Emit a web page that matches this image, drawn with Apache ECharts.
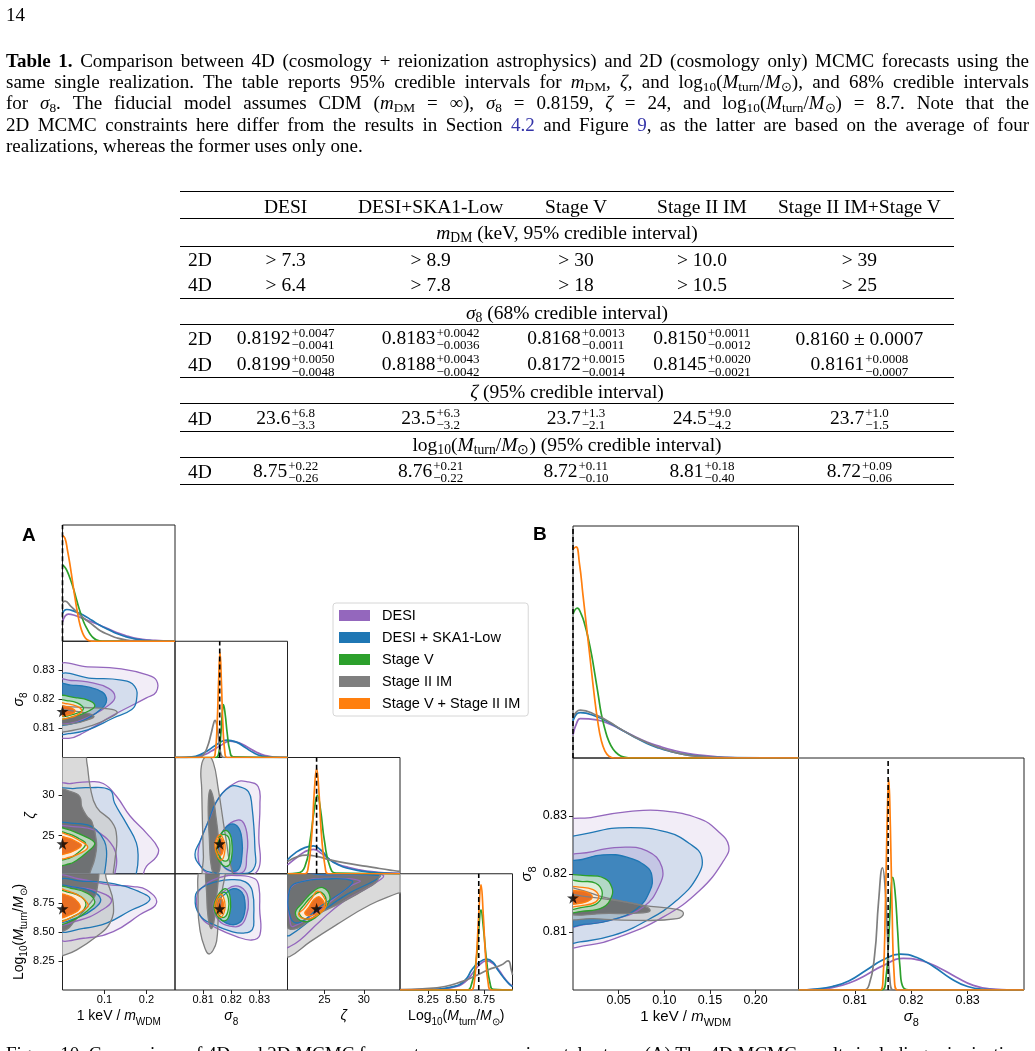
<!DOCTYPE html>
<html>
<head>
<meta charset="utf-8">
<script src="https://cdn.jsdelivr.net/npm/echarts@6/dist/echarts.min.js"></script>
<style>
  body { margin: 0; width: 1035px; height: 1051px; overflow: hidden; background: #fff; position: relative; font-family: 'Liberation Serif', serif; color: #000; }
  #chart { position: absolute; left: 0; top: 0; width: 1035px; height: 1051px; }
  .t { position: absolute; white-space: nowrap; }
  .cap { position: absolute; left: 6px; width: 1023px; font-size: 19px; line-height: 22px; text-align: justify; text-align-last: justify; white-space: nowrap; }
  .cap.last { text-align-last: left; }
  sub { font-size: 0.7em; vertical-align: -0.25em; line-height: 0; }
  .ln { color: #3434a8; }
  .c { position: absolute; transform: translate(-50%, -50%); white-space: nowrap; font-size: 19.5px; line-height: 22px; }
  .l { position: absolute; transform: translate(0, -50%); white-space: nowrap; font-size: 19.5px; line-height: 22px; }
  .ss { display: inline-block; vertical-align: -0.42em; font-size: 13px; line-height: 12.5px; margin-left: 1px; text-align: left; }
  .ss span { display: block; }
  .rule { position: absolute; left: 180px; width: 774px; height: 1px; background: #000; }
</style>
</head>
<body>
<div id="chart"></div>

<div class="t" style="left:6px;top:4px;font-size:19px;line-height:22px">14</div>
<div class="cap" style="top:50px"><b>Table 1.</b> Comparison between 4D (cosmology + reionization astrophysics) and 2D (cosmology only) MCMC forecasts using the</div>
<div class="cap" style="top:71px">same single realization. The table reports 95% credible intervals for <i>m</i><sub>DM</sub>, <i>ζ</i>, and log<sub>10</sub>(<i>M</i><sub>turn</sub>/<i>M</i><sub>⊙</sub>), and 68% credible intervals</div>
<div class="cap" style="top:92px">for <i>σ</i><sub>8</sub>. The fiducial model assumes CDM (<i>m</i><sub>DM</sub> = ∞), <i>σ</i><sub>8</sub> = 0.8159, <i>ζ</i> = 24, and log<sub>10</sub>(<i>M</i><sub>turn</sub>/<i>M</i><sub>⊙</sub>) = 8.7. Note that the</div>
<div class="cap" style="top:114px">2D MCMC constraints here differ from the results in Section <span class="ln">4.2</span> and Figure <span class="ln">9</span>, as the latter are based on the average of four</div>
<div class="cap last" style="top:135px">realizations, whereas the former uses only one.</div>

<div id="table"></div>

<div class="cap last" style="top:1043px">Figure 10. Comparison of 4D and 2D MCMC forecasts across experimental setups. (A) The 4D MCMC results including reionization</div>

<script>
// ---------- table (text only) ----------
const colX = [285.7, 430.7, 576, 702, 859.4];
const tableMid = 567;
const pm = (v, up, lo) => v + '<span class="ss"><span>+' + up + '</span><span>−' + lo + '</span></span>';
const tableHeader = ['DESI', 'DESI+SKA1-Low', 'Stage V', 'Stage II IM', 'Stage II IM+Stage V'];
const mdm2D = ['&gt; 7.3', '&gt; 8.9', '&gt; 30', '&gt; 10.0', '&gt; 39'];
const mdm4D = ['&gt; 6.4', '&gt; 7.8', '&gt; 18', '&gt; 10.5', '&gt; 25'];
const sig2D = [pm('0.8192', '0.0047', '0.0041'), pm('0.8183', '0.0042', '0.0036'), pm('0.8168', '0.0013', '0.0011'), pm('0.8150', '0.0011', '0.0012'), '0.8160 ± 0.0007'];
const sig4D = [pm('0.8199', '0.0050', '0.0048'), pm('0.8188', '0.0043', '0.0042'), pm('0.8172', '0.0015', '0.0014'), pm('0.8145', '0.0020', '0.0021'), pm('0.8161', '0.0008', '0.0007')];
const zeta4D = [pm('23.6', '6.8', '3.3'), pm('23.5', '6.3', '3.2'), pm('23.7', '1.3', '2.1'), pm('24.5', '9.0', '4.2'), pm('23.7', '1.0', '1.5')];
const mt4D = [pm('8.75', '0.22', '0.26'), pm('8.76', '0.21', '0.22'), pm('8.72', '0.11', '0.10'), pm('8.81', '0.18', '0.40'), pm('8.72', '0.09', '0.06')];

let th = '';
const rule = (y, h) => { th += '<div class="rule" style="top:' + y + 'px;height:' + (h || 1) + 'px"></div>'; };
const cen = (html, x, y) => { th += '<div class="c" style="left:' + x + 'px;top:' + y + 'px">' + html + '</div>'; };
const lab = (html, y) => { th += '<div class="l" style="left:188px;top:' + y + 'px">' + html + '</div>'; };
const row = (label, vals, y) => { lab(label, y); vals.forEach((v, i) => cen(v, colX[i], y)); };

rule(191, 1.4);
tableHeader.forEach((h, i) => cen(h, colX[i], 206.5));
rule(218);
cen('<i>m</i><sub>DM</sub> (keV, 95% credible interval)', tableMid, 232.5);
rule(245.5);
row('2D', mdm2D, 260);
row('4D', mdm4D, 285);
rule(298);
cen('<i>σ</i><sub>8</sub> (68% credible interval)', tableMid, 312.5);
rule(324);
row('2D', sig2D, 338.5);
row('4D', sig4D, 365);
rule(377);
cen('<i>ζ</i> (95% credible interval)', tableMid, 391.5);
rule(403);
row('4D', zeta4D, 418.5);
rule(430.5);
cen('log<sub>10</sub>(<i>M</i><sub>turn</sub>/<i>M</i><sub>⊙</sub>) (95% credible interval)', tableMid, 444.5);
rule(457);
row('4D', mt4D, 471.5);
rule(483.5, 1.4);
document.getElementById('table').innerHTML = th;

// ---------- chart data ----------
const names = ['DESI', 'DESI + SKA1-Low', 'Stage V', 'Stage II IM', 'Stage V + Stage II IM'];
const colors = ['#9467bd', '#1f77b4', '#2ca02c', '#7f7f7f', '#ff7f0e'];
const fillOuter = ['rgba(148,103,189,0.12)', 'rgba(31,119,180,0.14)', 'rgba(200,232,200,0.85)', 'rgba(205,205,205,0.75)', 'rgba(253,234,214,0.95)'];
const fillInner = ['rgba(148,103,189,0.2)', 'rgba(31,119,180,0.8)', 'rgba(226,242,221,0.9)', 'rgba(100,100,100,0.85)', 'rgba(232,104,25,0.95)'];
const contourOrder = [0, 1, 3, 2, 4];

// parameter ranges, ticks, true values
const rangesA = [[0, 0.268], [0.80, 0.84], [20.3, 34.6], [8.0, 9.0]];
const ticksA = [[0.1, 0.2], [0.81, 0.82, 0.83], [25, 30], [8.25, 8.5, 8.75]];
const decA = [1, 2, 0, 2];
const truthA = [0, 0.8159, 24, 8.7];
const rangesB = [[0, 0.247], [0.80, 0.84]];
const ticksB = [[0.05, 0.1, 0.15, 0.2], [0.81, 0.82, 0.83]];
const decB = [2, 2];
const truthB = [0, 0.8159];

// 1D marginals, [x, relative height], order = names
const mA0 = [
  [[0,0.166],[0.006,0.215],[0.014,0.233],[0.03,0.222],[0.05,0.195],[0.07,0.165],[0.089,0.138],[0.11,0.105],[0.129,0.075],[0.15,0.05],[0.169,0.03],[0.19,0.017],[0.217,0.008],[0.24,0.003],[0.268,0.001]],
  [[0,0.24],[0.01,0.273],[0.03,0.255],[0.05,0.224],[0.07,0.18],[0.089,0.138],[0.11,0.1],[0.129,0.066],[0.15,0.04],[0.169,0.023],[0.19,0.011],[0.208,0.005],[0.23,0.002],[0.268,0]],
  [[0,0.655],[0.005,0.64],[0.01,0.612],[0.018,0.54],[0.026,0.454],[0.034,0.35],[0.042,0.253],[0.05,0.17],[0.058,0.11],[0.066,0.06],[0.074,0.028],[0.082,0.01],[0.09,0.002],[0.1,0],[0.268,0]],
  [[0,0.33],[0.006,0.345],[0.02,0.3],[0.034,0.253],[0.05,0.2],[0.073,0.138],[0.09,0.09],[0.113,0.052],[0.13,0.028],[0.153,0.01],[0.18,0.003],[0.2,0],[0.268,0]],
  [[0,0.91],[0.006,0.885],[0.012,0.78],[0.018,0.655],[0.024,0.51],[0.03,0.368],[0.036,0.24],[0.042,0.138],[0.048,0.07],[0.054,0.03],[0.06,0.01],[0.066,0.002],[0.075,0],[0.268,0]]
];
const mA1 = [
  [[0.8,0],[0.803,0],[0.807,0.005],[0.81,0.02],[0.813,0.055],[0.816,0.1],[0.8196,0.141],[0.823,0.125],[0.826,0.085],[0.829,0.045],[0.832,0.017],[0.835,0.004],[0.84,0]],
  [[0.8,0],[0.802,0],[0.806,0.005],[0.809,0.025],[0.812,0.065],[0.815,0.115],[0.8184,0.15],[0.822,0.13],[0.825,0.085],[0.828,0.04],[0.831,0.012],[0.834,0.002],[0.84,0]],
  [[0.8,0],[0.8145,0],[0.8155,0.03],[0.8163,0.2],[0.8168,0.38],[0.8172,0.454],[0.8178,0.38],[0.8186,0.2],[0.8195,0.06],[0.8207,0.005],[0.84,0]],
  [[0.8,0],[0.8085,0],[0.81,0.02],[0.8115,0.09],[0.8128,0.2],[0.8137,0.29],[0.8142,0.319],[0.8148,0.29],[0.8155,0.17],[0.816,0.07],[0.8167,0.01],[0.8175,0],[0.84,0]],
  [[0.8,0],[0.8135,0],[0.8143,0.04],[0.815,0.3],[0.8155,0.65],[0.816,0.903],[0.8165,0.65],[0.817,0.3],[0.8177,0.05],[0.8185,0],[0.84,0]]
];
const mA2 = [
  [[20.3,0.077],[21.3,0.13],[22.5,0.19],[23.6,0.21],[24.6,0.175],[25.7,0.12],[26.8,0.08],[28,0.055],[29.5,0.033],[31,0.018],[33,0.007],[34.6,0.003]],
  [[20.3,0.12],[21.3,0.18],[22.5,0.225],[23.6,0.239],[24.6,0.2],[25.7,0.12],[26.8,0.075],[27.8,0.049],[29.5,0.025],[31.2,0.011],[33,0.004],[34.6,0.001]],
  [[20.3,0],[21.5,0.005],[22.5,0.06],[23.2,0.3],[23.7,0.55],[24.1,0.675],[24.5,0.55],[25,0.28],[25.7,0.06],[26.5,0.005],[34.6,0]],
  [[20.3,0.104],[21.5,0.145],[22.7,0.16],[24,0.15],[25.7,0.12],[27.8,0.091],[30.4,0.063],[32,0.045],[33.7,0.028],[34.6,0.02]],
  [[20.3,0],[22.5,0],[22.9,0.04],[23.4,0.35],[23.7,0.7],[24,0.903],[24.3,0.7],[24.6,0.35],[25.1,0.05],[25.5,0],[34.6,0]]
];
const mA3 = [
  [[8,0],[8.2,0.003],[8.4,0.013],[8.5,0.03],[8.55,0.05],[8.6,0.09],[8.65,0.15],[8.7,0.21],[8.77,0.25],[8.83,0.225],[8.88,0.17],[8.93,0.1],[8.97,0.055],[9,0.035]],
  [[8,0],[8.26,0.005],[8.4,0.015],[8.5,0.035],[8.548,0.058],[8.6,0.11],[8.637,0.172],[8.7,0.235],[8.77,0.265],[8.83,0.235],[8.87,0.172],[8.93,0.095],[8.98,0.043],[9,0.03]],
  [[8,0],[8.6,0],[8.63,0.03],[8.67,0.2],[8.7,0.52],[8.72,0.69],[8.74,0.55],[8.77,0.25],[8.8,0.06],[8.83,0.005],[9,0]],
  [[8,0.003],[8.2,0.01],[8.4,0.03],[8.548,0.072],[8.667,0.12],[8.78,0.172],[8.9,0.215],[8.96,0.25],[8.99,0.17],[9,0.13]],
  [[8,0],[8.63,0],[8.655,0.03],[8.68,0.3],[8.7,0.65],[8.72,0.905],[8.74,0.65],[8.76,0.3],[8.785,0.05],[8.81,0],[9,0]]
];
const mB0 = [
  [[0,0.1],[0.004,0.15],[0.008,0.17],[0.026,0.164],[0.04,0.147],[0.052,0.124],[0.066,0.096],[0.081,0.069],[0.095,0.05],[0.11,0.033],[0.125,0.02],[0.139,0.012],[0.16,0.005],[0.18,0.001],[0.247,0]],
  [[0,0.16],[0.004,0.19],[0.008,0.196],[0.026,0.178],[0.04,0.152],[0.052,0.124],[0.066,0.093],[0.081,0.063],[0.094,0.043],[0.106,0.029],[0.12,0.017],[0.135,0.009],[0.15,0.004],[0.168,0.002],[0.247,0]],
  [[0,0.62],[0.0047,0.646],[0.009,0.62],[0.0132,0.571],[0.017,0.51],[0.0205,0.442],[0.024,0.36],[0.0278,0.268],[0.031,0.19],[0.035,0.124],[0.039,0.075],[0.044,0.038],[0.05,0.014],[0.055,0.005],[0.065,0],[0.247,0]],
  [[0,0.175],[0.004,0.2],[0.008,0.206],[0.026,0.184],[0.04,0.155],[0.052,0.125],[0.066,0.094],[0.081,0.066],[0.094,0.045],[0.106,0.03],[0.12,0.017],[0.135,0.008],[0.157,0.003],[0.18,0.001],[0.247,0]],
  [[0,0.9],[0.0033,0.91],[0.007,0.84],[0.011,0.7],[0.015,0.56],[0.019,0.42],[0.023,0.28],[0.027,0.16],[0.031,0.075],[0.035,0.03],[0.039,0.009],[0.045,0],[0.247,0]]
];
const mB1 = [
  [[0.8,0],[0.803,0.003],[0.806,0.01],[0.809,0.03],[0.812,0.065],[0.815,0.105],[0.8186,0.136],[0.822,0.125],[0.825,0.095],[0.828,0.055],[0.831,0.02],[0.834,0.005],[0.838,0],[0.84,0]],
  [[0.8,0],[0.803,0.004],[0.806,0.015],[0.809,0.04],[0.812,0.085],[0.815,0.13],[0.818,0.155],[0.821,0.14],[0.824,0.1],[0.827,0.05],[0.83,0.015],[0.833,0.003],[0.837,0],[0.84,0]],
  [[0.8,0],[0.8148,0],[0.8155,0.05],[0.816,0.22],[0.8164,0.42],[0.8167,0.486],[0.8171,0.43],[0.8176,0.25],[0.818,0.1],[0.8186,0.01],[0.82,0],[0.84,0]],
  [[0.8,0],[0.8115,0],[0.8125,0.02],[0.8135,0.15],[0.8142,0.38],[0.8149,0.527],[0.8154,0.43],[0.8158,0.22],[0.8162,0.05],[0.8168,0],[0.84,0]],
  [[0.8,0],[0.8145,0],[0.815,0.05],[0.8154,0.35],[0.8157,0.7],[0.816,0.909],[0.8163,0.7],[0.8166,0.35],[0.817,0.05],[0.8176,0],[0.84,0]]
];

// 2D credible contours: per dataset [95% outline, 68% outline], points [x, y]
const cA10 = [
  [[[-0.01,0.8312],[-0.01,0.808],[0.015,0.8066],[0.05,0.8085],[0.12,0.8145],[0.2,0.8205],[0.223,0.8225],[0.224,0.8265],[0.2,0.8285],[0.14,0.8305],[0.06,0.8312]],
   [[-0.01,0.8265],[-0.01,0.8125],[0.02,0.8118],[0.07,0.8145],[0.11,0.818],[0.125,0.8208],[0.11,0.8238],[0.06,0.826],[0.02,0.8265]]],
  [[[-0.01,0.8278],[-0.01,0.8085],[0.015,0.8082],[0.06,0.8095],[0.12,0.8135],[0.165,0.8165],[0.176,0.8195],[0.172,0.8245],[0.14,0.8266],[0.07,0.8272]],
   [[-0.01,0.825],[-0.01,0.812],[0.02,0.8115],[0.06,0.8135],[0.095,0.817],[0.105,0.8197],[0.095,0.8225],[0.06,0.8243],[0.02,0.8249]]],
  [[[-0.01,0.8208],[-0.01,0.8138],[0.03,0.8142],[0.065,0.8162],[0.077,0.8178],[0.065,0.8195],[0.03,0.8206]],
   [[-0.01,0.8196],[-0.01,0.8146],[0.03,0.815],[0.05,0.8168],[0.035,0.8188],[0.01,0.8196]]],
  [[[-0.01,0.8175],[-0.01,0.8095],[0.02,0.8092],[0.07,0.811],[0.12,0.8142],[0.13,0.8157],[0.11,0.8167],[0.05,0.8172],[0.01,0.8175]],
   [[-0.01,0.8162],[-0.01,0.8118],[0.03,0.8118],[0.065,0.8132],[0.075,0.8142],[0.06,0.8152],[0.02,0.8161]]],
  [[[-0.01,0.8185],[-0.01,0.8136],[0.02,0.8138],[0.04,0.815],[0.046,0.8162],[0.035,0.8176],[0.01,0.8185]],
   [[-0.01,0.8176],[-0.01,0.8145],[0.015,0.8147],[0.03,0.8158],[0.022,0.817],[0.005,0.8176]]]
];
const cA20 = [
  [[[-0.01,31.2],[0.02,31.4],[0.06,31.6],[0.097,31.4],[0.129,29.8],[0.161,27.4],[0.2,25.3],[0.228,23.4],[0.224,22.4],[0.2,21.2],[0.18,19.5],[-0.01,19.5]],
   [[-0.01,25.9],[0.026,26.1],[0.06,25.9],[0.089,25.3],[0.121,23.6],[0.129,22.0],[0.125,20.4],[0.12,19.5],[-0.01,19.5]]],
  [[[-0.01,30.4],[0.03,30.8],[0.06,30.9],[0.113,30.6],[0.124,29.0],[0.152,26.5],[0.176,24.1],[0.18,22.1],[0.176,20.4],[0.17,19.5],[-0.01,19.5]],
   [[-0.01,26.3],[0.026,26.5],[0.06,26.3],[0.081,25.7],[0.1,24.3],[0.105,23.0],[0.103,21.4],[0.1,20.4],[0.095,19.5],[-0.01,19.5]]],
  [[[-0.01,25.8],[0.01,25.8],[0.04,25.2],[0.065,24.6],[0.077,24.0],[0.06,23.0],[0.035,22.0],[0.015,21.5],[-0.01,21.5]],
   [[-0.01,25.3],[0.015,25.2],[0.04,24.6],[0.055,24.0],[0.04,23.0],[0.015,22.2],[-0.01,22.2]]],
  [[[-0.01,35.5],[-0.01,19.5],[0.12,19.5],[0.121,20.4],[0.125,22.0],[0.129,24.9],[0.117,26.7],[0.081,28.5],[0.066,31.0],[0.058,34.0],[0.05,35.5]],
   [[-0.01,30.5],[0.02,30.4],[0.041,29.8],[0.046,28.5],[0.058,27.4],[0.07,26.7],[0.081,24.2],[0.077,22.2],[0.066,20.5],[0.06,19.5],[-0.01,19.5]]],
  [[[-0.01,25.2],[0.012,25.1],[0.04,24.4],[0.06,23.6],[0.045,22.9],[0.015,22.3],[-0.01,22.3]],
   [[-0.01,24.8],[0.012,24.7],[0.035,24.2],[0.045,23.8],[0.03,23.2],[0.01,22.8],[-0.01,22.8]]]
];
const cA30 = [
  [[[-0.01,8.965],[-0.01,8.455],[0.05,8.445],[0.121,8.503],[0.184,8.647],[0.224,8.75],[0.2,8.862],[0.168,8.89],[0.112,8.905],[0.04,8.955]],
   [[-0.01,8.87],[-0.01,8.58],[0.04,8.6],[0.09,8.68],[0.117,8.77],[0.09,8.84],[0.04,8.88]]],
  [[[-0.01,8.93],[-0.01,8.525],[0.05,8.53],[0.105,8.575],[0.16,8.68],[0.208,8.776],[0.18,8.85],[0.113,8.92],[0.05,8.935]],
   [[-0.01,8.88],[-0.01,8.6],[0.04,8.63],[0.075,8.7],[0.091,8.78],[0.07,8.85],[0.03,8.885]]],
  [[[-0.01,8.88],[-0.01,8.58],[0.03,8.61],[0.065,8.7],[0.077,8.76],[0.06,8.83],[0.02,8.875]],
   [[-0.01,8.85],[-0.01,8.61],[0.03,8.64],[0.055,8.72],[0.045,8.8],[0.01,8.845]]],
  [[[-0.01,9.1],[-0.01,8.3],[0.006,8.302],[0.034,8.345],[0.081,8.46],[0.113,8.575],[0.121,8.747],[0.105,8.948],[0.09,9.1]],
   [[-0.01,9.1],[-0.01,8.52],[0.01,8.52],[0.03,8.6],[0.06,8.72],[0.082,8.86],[0.075,9.1]]],
  [[[-0.01,8.86],[-0.01,8.6],[0.025,8.63],[0.055,8.7],[0.0615,8.73],[0.045,8.8],[0.01,8.855]],
   [[-0.01,8.82],[-0.01,8.63],[0.02,8.65],[0.042,8.71],[0.03,8.78],[0.01,8.815]]]
];
const cA21 = [
  [[[0.8215,31.5],[0.8155,29.6],[0.8122,27.0],[0.809,24.3],[0.8082,22.6],[0.8095,21.0],[0.813,20.2],[0.822,19.6],[0.828,20.2],[0.8302,21.5],[0.8298,24.7],[0.8302,28.8],[0.8296,31.0],[0.826,31.6]],
   [[0.8148,23.4],[0.8165,21.5],[0.8205,20.5],[0.8245,20.6],[0.8255,22.5],[0.8258,24.5],[0.8245,26.5],[0.8222,26.9],[0.818,26.0],[0.816,24.8]]],
  [[[0.8196,31.0],[0.8148,29.2],[0.8119,26.8],[0.8089,24.3],[0.8071,22.7],[0.8089,21.3],[0.8124,20.5],[0.8219,20.3],[0.8278,20.8],[0.8284,23.5],[0.8273,28.8],[0.8261,30.4],[0.823,31.0]],
   [[0.8155,23.4],[0.8165,21.6],[0.8195,20.7],[0.8225,20.8],[0.8238,22.5],[0.8238,24.5],[0.8225,26.0],[0.8198,26.4],[0.817,25.5],[0.816,24.5]]],
  [[[0.8146,23.0],[0.8165,21.5],[0.819,21.3],[0.8202,22.5],[0.8203,23.8],[0.8195,25.2],[0.8175,25.6],[0.8155,24.6]],
   [[0.815,23.2],[0.8168,22.0],[0.8188,22.0],[0.8195,23.5],[0.819,24.8],[0.8168,25.1],[0.8155,24.3]]],
  [[[0.8094,33.6],[0.8095,30.7],[0.8101,22.5],[0.8107,19.5],[0.8198,19.5],[0.819,22.5],[0.8172,26.6],[0.8154,30.7],[0.8136,34.0],[0.8115,34.8]],
   [[0.8124,30.6],[0.8135,29.8],[0.8145,27.5],[0.8155,24.5],[0.816,21.0],[0.8145,20.2],[0.813,21.0],[0.8122,24.7],[0.8118,28.5]]],
  [[[0.8142,23.7],[0.8152,22.4],[0.8166,22.0],[0.8176,22.8],[0.8178,23.8],[0.817,24.7],[0.816,25.1],[0.8148,24.6]],
   [[0.8148,23.8],[0.8155,22.9],[0.8164,22.6],[0.8172,23.3],[0.8171,24.2],[0.8161,24.7],[0.8151,24.4]]]
];
const cA31 = [
  [[[0.8077,8.79],[0.8095,8.618],[0.8148,8.532],[0.8219,8.46],[0.8273,8.43],[0.8302,8.474],[0.8301,8.7],[0.8299,8.876],[0.8284,8.957],[0.8219,8.985],[0.816,8.968],[0.8101,8.891]],
   [[0.8136,8.72],[0.8155,8.6],[0.8195,8.55],[0.8235,8.56],[0.8255,8.65],[0.8261,8.75],[0.825,8.85],[0.8215,8.895],[0.8175,8.85],[0.8148,8.8]]],
  [[[0.8072,8.8],[0.8089,8.64],[0.814,8.56],[0.8205,8.5],[0.8245,8.49],[0.8275,8.52],[0.828,8.62],[0.8275,8.85],[0.825,8.93],[0.82,8.95],[0.8145,8.93],[0.8095,8.88]],
   [[0.8148,8.72],[0.816,8.62],[0.8195,8.565],[0.823,8.58],[0.8247,8.66],[0.8249,8.75],[0.8238,8.84],[0.8207,8.872],[0.8175,8.82],[0.8155,8.78]]],
  [[[0.8138,8.72],[0.8155,8.62],[0.8182,8.6],[0.8196,8.68],[0.8197,8.77],[0.819,8.85],[0.8175,8.87],[0.8152,8.81]],
   [[0.8143,8.72],[0.8158,8.64],[0.8178,8.63],[0.819,8.7],[0.819,8.78],[0.8178,8.84],[0.8155,8.8]]],
  [[[0.8098,9.1],[0.8082,8.73],[0.809,8.5],[0.8108,8.35],[0.812,8.31],[0.8135,8.34],[0.8148,8.42],[0.8155,8.65],[0.8166,8.82],[0.8172,9.1]],
   [[0.8115,9.1],[0.8113,8.8],[0.8118,8.62],[0.8128,8.53],[0.8138,8.58],[0.8145,8.75],[0.8152,8.9],[0.8155,9.1]]],
  [[[0.8142,8.72],[0.8152,8.65],[0.8163,8.625],[0.8175,8.67],[0.8178,8.73],[0.8172,8.8],[0.8161,8.825],[0.815,8.79]],
   [[0.8148,8.72],[0.8156,8.665],[0.8165,8.655],[0.8172,8.7],[0.8171,8.76],[0.8162,8.79],[0.8152,8.77]]]
];
const cA32 = [
  [[[20.0,8.985],[20.0,8.37],[20.6,8.374],[21.9,8.43],[24.4,8.59],[27.4,8.76],[31.0,8.9],[32.5,8.985],[30,8.99],[25,8.99]],
   [[20.5,8.85],[20.6,8.6],[21.0,8.546],[24.4,8.69],[28.2,8.89],[29.5,8.94],[26,8.96],[22,8.93]]],
  [[[20.1,8.98],[20.1,8.48],[20.6,8.47],[23.6,8.62],[27.8,8.82],[31.6,8.95],[32,8.985],[25,8.99]],
   [[20.6,8.87],[20.7,8.62],[21.8,8.58],[24.5,8.72],[27.8,8.87],[28.5,8.94],[25,8.955],[22,8.93]]],
  [[[21.3,8.66],[22.3,8.59],[23.8,8.62],[25.2,8.72],[25.7,8.8],[24.8,8.88],[23.6,8.85],[22.2,8.75]],
   [[21.8,8.66],[22.8,8.61],[24.2,8.65],[25.2,8.74],[24.6,8.84],[23.5,8.81],[22.4,8.73]]],
  [[[20.0,9.1],[20.0,8.3],[20.6,8.288],[23.2,8.416],[26.5,8.56],[30.8,8.733],[34.2,8.83],[35,8.85],[35,9.1]],
   [[20.2,9.1],[20.2,8.55],[21.5,8.53],[24.0,8.647],[27.4,8.76],[30.4,8.876],[31.8,8.95],[32,9.1]]],
  [[[21.7,8.65],[22.7,8.61],[24.0,8.64],[25.2,8.72],[24.9,8.8],[24.1,8.85],[23.4,8.79],[22.4,8.7]],
   [[22.5,8.66],[23.3,8.64],[24.3,8.67],[25.0,8.72],[24.4,8.8],[23.7,8.78],[23.0,8.71]]]
];
const cB10 = [
  [[[-0.01,0.8283],[-0.01,0.808],[0.015,0.8077],[0.0516,0.8092],[0.099,0.8126],[0.139,0.8172],[0.165,0.8223],[0.1705,0.8249],[0.158,0.8275],[0.139,0.8295],[0.0991,0.8309],[0.0626,0.8308],[0.0223,0.8298]],
   [[-0.01,0.8222],[-0.01,0.811],[0.0095,0.8112],[0.048,0.8123],[0.077,0.8143],[0.0937,0.8177],[0.0974,0.8212],[0.081,0.824],[0.0516,0.8246],[0.02,0.8238]]],
  [[[-0.01,0.8249],[-0.01,0.8083],[0.0077,0.8083],[0.044,0.8094],[0.081,0.812],[0.114,0.8155],[0.136,0.8195],[0.141,0.8229],[0.128,0.8252],[0.103,0.8272],[0.0626,0.828],[0.0223,0.8272]],
   [[-0.01,0.8215],[-0.01,0.8112],[0.0113,0.8113],[0.0406,0.812],[0.07,0.814],[0.0845,0.8172],[0.0864,0.8197],[0.081,0.8212],[0.059,0.8229],[0.0333,0.8233],[0.01,0.8225]]],
  [[[-0.01,0.8192],[-0.01,0.8137],[0.011,0.8136],[0.0333,0.8143],[0.0425,0.8162],[0.0425,0.8177],[0.035,0.8192],[0.018,0.8197]],
   [[-0.01,0.8186],[-0.01,0.8142],[0.012,0.8143],[0.027,0.815],[0.032,0.8168],[0.025,0.8184],[0.01,0.8187]]],
  [[[-0.01,0.8175],[-0.01,0.8127],[0.0223,0.8123],[0.07,0.812],[0.114,0.8123],[0.121,0.8132],[0.114,0.8139],[0.077,0.8146],[0.0333,0.816],[0.005,0.8174]],
   [[-0.01,0.8163],[-0.01,0.8134],[0.0406,0.8132],[0.077,0.8133],[0.0845,0.8137],[0.077,0.8145],[0.044,0.8155],[0.01,0.8162]]],
  [[[-0.01,0.8175],[-0.01,0.8146],[0.011,0.8146],[0.025,0.8152],[0.028,0.8163],[0.022,0.8173],[0.01,0.8177]],
   [[-0.01,0.8171],[-0.01,0.815],[0.01,0.815],[0.0195,0.8156],[0.0205,0.8163],[0.014,0.8169],[0.005,0.8171]]]
];

// ---------- chart ----------
const sans = 'Liberation Sans, Arial, sans-serif';
const starPath = 'path://M50,0 L61,35 L98,35 L68,57 L79,91 L50,70 L21,91 L32,57 L2,35 L39,35 Z';
const axisRich = fs => ({
  r: { fontSize: fs, lineHeight: Math.round(fs * 1.5), fontFamily: sans, color: '#000' },
  i: { fontSize: fs, lineHeight: Math.round(fs * 1.5), fontFamily: sans, fontStyle: 'italic', color: '#000' },
  s: { fontSize: Math.round(fs * 0.7), fontFamily: sans, verticalAlign: 'bottom', color: '#000' }
});
const labelWDM = '{r|1 keV / }{i|m}{s|WDM}';
const labelSig = '{i|σ}{s|8}';
const labelZeta = '{i|ζ}';
const labelMt = '{r|Log}{s|10}{r|(}{i|M}{s|turn}{r|/}{i|M}{s|⊙}{r|)}';

const grids = [], xAxes = [], yAxes = [], series = [];

function contourSeries(gi, pts, fill, stroke, z) {
  return {
    type: 'custom', xAxisIndex: gi, yAxisIndex: gi, data: pts, clip: true, silent: true, z: z,
    renderItem: function (params, api) {
      if (params.dataIndex !== 0) return null;
      const p = pts.map(d => api.coord(d));
      return {
        type: 'polygon',
        shape: { points: p, smooth: 0.45 },
        style: fill ? { fill: fill, stroke: null } : { fill: 'none', stroke: stroke, lineWidth: 1.3 }
      };
    }
  };
}

function addCorner(cfg) {
  const n = cfg.ranges.length;
  for (let r = 0; r < n; r++) {
    for (let c = 0; c <= r; c++) {
      const gi = grids.length;
      const bottom = r === n - 1;
      const leftCol = c === 0 && r > 0;
      grids.push({
        left: cfg.left + c * cfg.cw, top: cfg.top + r * cfg.ch, width: cfg.cw, height: cfg.ch,
        show: true, borderColor: '#222', borderWidth: 1, backgroundColor: 'transparent'
      });
      xAxes.push({
        gridIndex: gi, type: 'value', min: cfg.ranges[c][0], max: cfg.ranges[c][1],
        axisLine: { show: false }, splitLine: { show: false },
        axisTick: { show: bottom, length: 4, customValues: cfg.ticks[c], lineStyle: { color: '#222' } },
        axisLabel: { show: bottom, customValues: cfg.ticks[c], formatter: v => v.toFixed(cfg.dec[c]),
          fontSize: cfg.tickFs, fontFamily: sans, color: '#000', margin: cfg.xMargin },
        name: bottom ? cfg.labels[c] : '', nameLocation: 'middle', nameGap: cfg.xNameGap,
        nameTextStyle: { rich: axisRich(cfg.nameFs) }
      });
      if (r === c) {
        yAxes.push({ gridIndex: gi, type: 'value', min: 0, max: 1, show: false });
      } else {
        yAxes.push({
          gridIndex: gi, type: 'value', min: cfg.ranges[r][0], max: cfg.ranges[r][1],
          axisLine: { show: false }, splitLine: { show: false },
          axisTick: { show: leftCol, length: 4, customValues: cfg.ticks[r], lineStyle: { color: '#222' } },
          axisLabel: { show: leftCol, customValues: cfg.ticks[r], formatter: v => v.toFixed(cfg.dec[r]),
            fontSize: cfg.tickFs, fontFamily: sans, color: '#000', margin: cfg.yMargin },
          name: leftCol ? cfg.labels[r] : '', nameLocation: 'middle', nameRotate: 90, nameGap: cfg.yNameGap[r],
          nameTextStyle: { rich: axisRich(cfg.nameFs) }
        });
      }

      if (r === c) {
        cfg.marg[c].forEach((pts, k) => {
          series.push({
            type: 'line', name: names[k], xAxisIndex: gi, yAxisIndex: gi, data: pts,
            showSymbol: false, smooth: 0.5, clip: true, silent: true, z: 3,
            lineStyle: { color: colors[k], width: 1.7 }, itemStyle: { color: colors[k] }
          });
        });
        series.push({
          type: 'line', xAxisIndex: gi, yAxisIndex: gi, data: [[cfg.truth[c], 0], [cfg.truth[c], 1]],
          showSymbol: false, silent: true, z: 4, lineStyle: { color: '#000', width: 1.6, type: [5, 3] }
        });
      } else {
        const cont = cfg.cont[r + ',' + c];
        contourOrder.forEach(k => {
          series.push(contourSeries(gi, cont[k][0], fillOuter[k], null, 2));
          series.push(contourSeries(gi, cont[k][1], fillInner[k], null, 2));
        });
        contourOrder.forEach(k => {
          series.push(contourSeries(gi, cont[k][0], null, colors[k], 3));
          series.push(contourSeries(gi, cont[k][1], null, colors[k], 3));
        });
        series.push({
          type: 'scatter', xAxisIndex: gi, yAxisIndex: gi, data: [[cfg.truth[c], cfg.truth[r]]],
          symbol: starPath, symbolSize: cfg.starSize, silent: true, z: 5, itemStyle: { color: '#000' }
        });
      }
    }
  }
}

addCorner({
  left: 62.5, top: 525, cw: 112.5, ch: 116.25,
  ranges: rangesA, ticks: ticksA, dec: decA, truth: truthA,
  marg: [mA0, mA1, mA2, mA3],
  cont: { '1,0': cA10, '2,0': cA20, '3,0': cA30, '2,1': cA21, '3,1': cA31, '3,2': cA32 },
  labels: [labelWDM, labelSig, labelZeta, labelMt],
  tickFs: 11, nameFs: 14, xMargin: 4, yMargin: 8, xNameGap: 16, yNameGap: [0, 32, 20, 32], starSize: 12
});
addCorner({
  left: 573, top: 526, cw: 225.5, ch: 232,
  ranges: rangesB, ticks: ticksB, dec: decB, truth: truthB,
  marg: [mB0, mB1],
  cont: { '1,0': cB10 },
  labels: [labelWDM, labelSig],
  tickFs: 12.5, nameFs: 15, xMargin: 4, yMargin: 6, xNameGap: 15, yNameGap: [0, 30], starSize: 12
});

const chart = echarts.init(document.getElementById('chart'));
chart.setOption({
  animation: false,
  textStyle: { fontFamily: sans },
  grid: grids, xAxis: xAxes, yAxis: yAxes, series: series,
  legend: {
    left: 333, top: 603, orient: 'vertical', padding: [5, 8, 5, 6], itemGap: 7,
    itemWidth: 31, itemHeight: 11, backgroundColor: '#fff', borderColor: '#d6d6d6', borderWidth: 1, borderRadius: 3,
    textStyle: { fontSize: 14.5, fontFamily: sans, color: '#000', padding: [0, 0, 0, 7] },
    selectedMode: false,
    data: names.map((nm, k) => ({ name: nm, icon: 'rect', itemStyle: { color: colors[k] } }))
  },
  graphic: [
    { type: 'text', left: 22, top: 526, style: { text: 'A', font: 'bold 19px ' + sans, fill: '#000' } },
    { type: 'text', left: 533, top: 525, style: { text: 'B', font: 'bold 19px ' + sans, fill: '#000' } }
  ]
});
</script>
</body>
</html>
